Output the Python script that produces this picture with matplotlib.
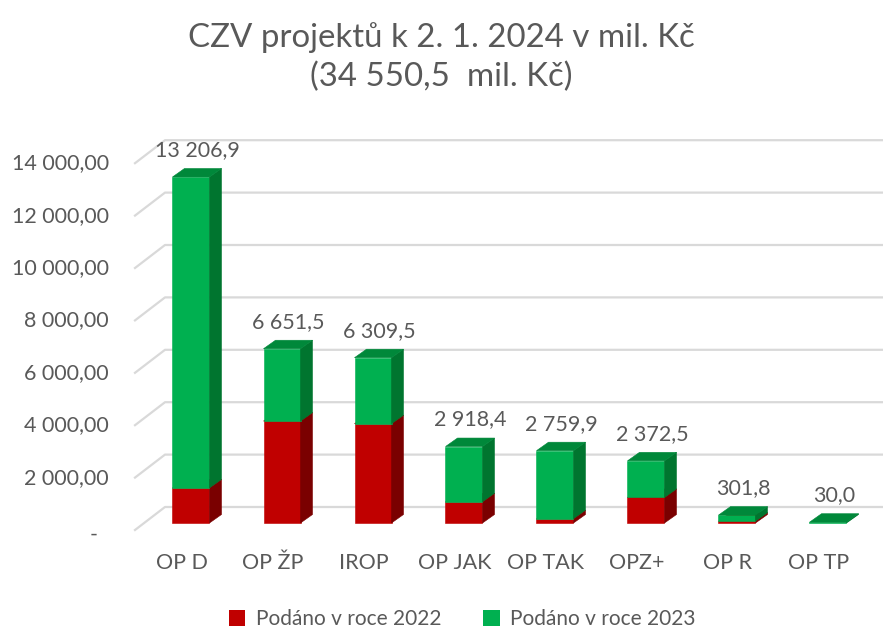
import matplotlib
matplotlib.use('Agg')
import matplotlib.pyplot as plt
from matplotlib.patches import Polygon, Rectangle

categories = ['OP D', 'OP ŽP', 'IROP', 'OP JAK', 'OP TAK', 'OPZ+', 'OP R', 'OP TP']
podano_2022 = [1340, 3890, 3790, 810, 165, 975, 70, 0]
podano_2023 = [11866.9, 2761.5, 2519.5, 2108.4, 2594.9, 1397.5, 231.8, 30.0]
totals = ['13 206,9', '6 651,5', '6 309,5', '2 918,4', '2 759,9', '2 372,5', '301,8', '30,0']
yticks = [0, 2000, 4000, 6000, 8000, 10000, 12000, 14000]
ytick_labels = ['-', '2 000,00', '4 000,00', '6 000,00', '8 000,00', '10 000,00', '12 000,00', '14 000,00']

W, H = 883, 630
PX_CAT = 91.0          # pixels per category
PX_VAL = 26.2 / 1000   # pixels per unit value
X0, Y0 = 182, 530      # first category / zero on the front of the floor

TEXT = '#595959'
GRID = '#D9D9D9'
series = [
    (podano_2022, '#C00000', '#7A0000', '#990000', 'Podáno v roce 2022'),
    (podano_2023, '#00B050', '#00752F', '#00883A', 'Podáno v roce 2023'),
]

plt.rcParams['font.family'] = ['Lato', 'DejaVu Sans']

fig = plt.figure(figsize=(W / 100, H / 100), dpi=100)
ax = fig.add_axes([0, 0, 1, 1])
ax.set_xlim(-X0 / PX_CAT, (W - X0) / PX_CAT)
ax.set_ylim(-(H - Y0) / PX_VAL, Y0 / PX_VAL)
ax.axis('off')


def dx(px):
    return px / PX_CAT


def dy(px):
    return px / PX_VAL


# back wall gridlines with the diagonal on the left side
for v, lab in zip(yticks, ytick_labels):
    x_front = dx(-47)
    ax.plot([x_front, x_front + dx(30), (W - X0) / PX_CAT],
            [v, v + dy(23), v + dy(23)], color=GRID, lw=1.6, zorder=1)
    if v == 0:
        ax.text(dx(-84), v - dy(5), lab, ha='right', va='center', fontsize=15.5, color=TEXT)
    else:
        ax.text(dx(-73), v, lab, ha='right', va='center', fontsize=15.5, color=TEXT)

# bars: front plane offset from the floor front
fx, fy = dx(9), dy(7)
ddx, ddy = dx(12), dy(8.5)
half = dx(18.5)
for i in range(len(categories)):
    bottom = 0
    for values, c_front, c_side, c_top, _ in series:
        v = values[i]
        if v <= 0:
            continue
        x_l = i + fx - half
        x_r = i + fx + half
        y_b = bottom + fy
        y_t = bottom + v + fy
        ax.add_patch(Rectangle((x_l, y_b), x_r - x_l, v, facecolor=c_front,
                               edgecolor=c_front, lw=0.4, zorder=3))
        ax.add_patch(Polygon([(x_r, y_b), (x_r + ddx, y_b + ddy), (x_r + ddx, y_t + ddy), (x_r, y_t)],
                             closed=True, facecolor=c_side, edgecolor=c_side, lw=0.4, zorder=3))
        ax.add_patch(Polygon([(x_l, y_t), (x_r, y_t), (x_r + ddx, y_t + ddy), (x_l + ddx, y_t + ddy)],
                             closed=True, facecolor=c_top, edgecolor=c_top, lw=0.4, zorder=3))
        bottom += v
    ax.text(i + fx + ddx / 2, bottom + fy + dy(27), totals[i], ha='center', va='center',
            fontsize=15.5, color=TEXT, zorder=4)
    ax.text(i, -dy(33), categories[i], ha='center', va='center', fontsize=15.5, color=TEXT)

fig.text(0.5, 1 - 38 / H, 'CZV projektů k 2. 1. 2024 v mil. Kč', ha='center', va='center',
         fontsize=23.8, color=TEXT)
fig.text(0.5, 1 - 77 / H, '(34 550,5  mil. Kč)', ha='center', va='center',
         fontsize=23.8, color=TEXT)

handles = [Rectangle((0, 0), 1, 1, facecolor=s[1]) for s in series]
fig.legend(handles, [s[4] for s in series], loc='center', bbox_to_anchor=(462 / W, 1 - 619 / H),
           ncol=2, frameon=False, fontsize=15, labelcolor=TEXT, handlelength=0.8,
           handleheight=0.8, handletextpad=0.5, columnspacing=2.0)

fig.savefig('out.png', dpi=100)
